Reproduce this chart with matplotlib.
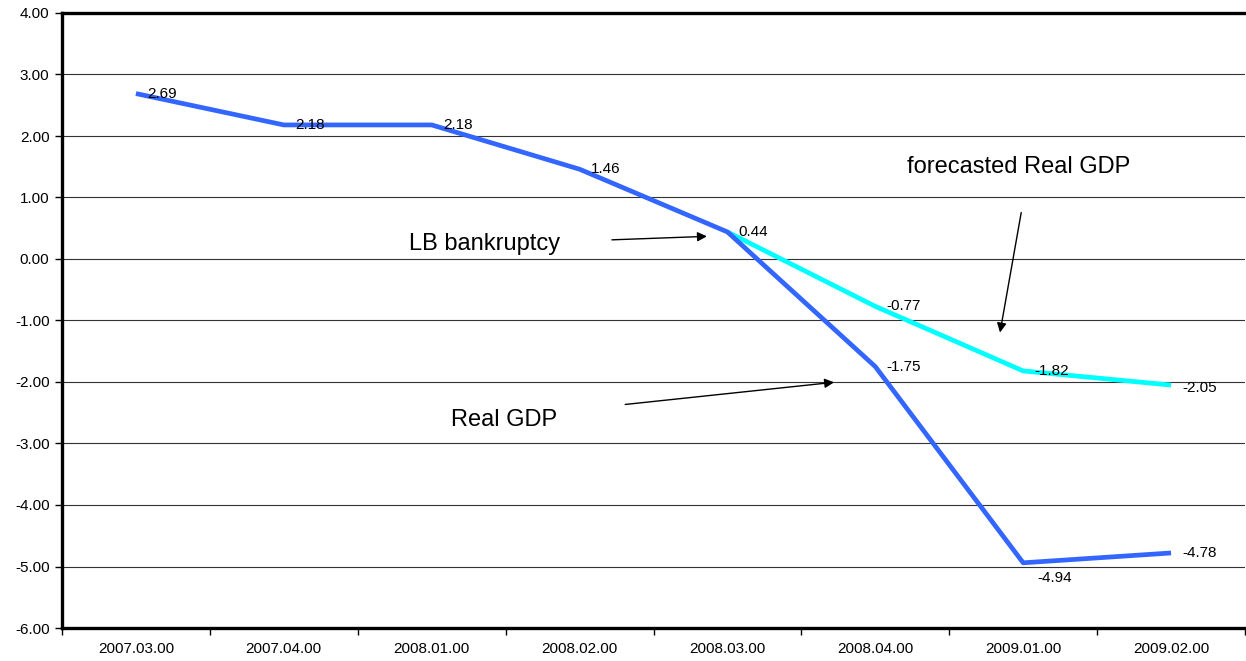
import numpy as np
import matplotlib.pyplot as plt
from matplotlib.ticker import FixedLocator

plt.rcParams['font.family'] = ['Liberation Sans', 'DejaVu Sans']

# data
quarters = ['2007.03.00', '2007.04.00', '2008.01.00', '2008.02.00',
            '2008.03.00', '2008.04.00', '2009.01.00', '2009.02.00']
real_gdp = [2.69, 2.18, 2.18, 1.46, 0.44, -1.75, -4.94, -4.78]
forecast_idx = [4, 5, 6, 7]
forecast_gdp = [0.44, -0.77, -1.82, -2.05]

x = np.arange(len(quarters))

fig = plt.figure(figsize=(12.46, 6.61), dpi=100)
ax = fig.add_axes([62 / 1246, 33 / 661, 1183 / 1246, 615 / 661])

ax.plot(forecast_idx, forecast_gdp, color='#00ffff', lw=3.4, solid_capstyle='butt', zorder=3)
ax.plot(x, real_gdp, color='#3366ff', lw=3.4, solid_capstyle='butt', zorder=4)

# data labels
for i, v in enumerate(real_gdp):
    if i == 6:
        ax.annotate(f'{v:.2f}', (i, v), xytext=(10, -11), textcoords='offset points',
                    ha='left', va='center', fontsize=11, zorder=5)
    else:
        ax.annotate(f'{v:.2f}', (i, v), xytext=(8, 0), textcoords='offset points',
                    ha='left', va='center', fontsize=11, zorder=5)
for i, v in zip(forecast_idx[1:], forecast_gdp[1:]):
    dy = -2 if i == 7 else 0
    ax.annotate(f'{v:.2f}', (i, v), xytext=(8, dy), textcoords='offset points',
                ha='left', va='center', fontsize=11, zorder=5)

ax.set_xlim(-0.5, len(quarters) - 0.5)
ax.set_ylim(-6, 4)
ax.set_yticks(np.arange(-6, 4.1, 1))
ax.set_yticklabels([f'{t:.2f}' for t in np.arange(-6, 4.1, 1)], fontsize=11)
ax.set_xticks(x)
ax.set_xticklabels(quarters, fontsize=11)
ax.xaxis.set_minor_locator(FixedLocator(np.arange(-0.5, len(quarters), 1)))
ax.tick_params(axis='x', which='major', length=0, pad=10)
ax.tick_params(axis='x', which='minor', length=5, width=1)
ax.tick_params(axis='y', length=5, width=1, pad=4)

ax.grid(axis='y', color='#333333', lw=0.8)
ax.set_axisbelow(True)
for s in ['left', 'bottom', 'top']:
    ax.spines[s].set_linewidth(2.4)
ax.spines['right'].set_visible(False)

arrow = dict(arrowstyle='-|>', color='black', lw=1, mutation_scale=14)
ax.annotate('', xy=(3.88, 0.37), xytext=(3.20, 0.31), arrowprops=arrow)
ax.text(2.36, 0.25, 'LB bankruptcy', fontsize=17, ha='center', va='center')
ax.annotate('', xy=(5.84, -1.24), xytext=(5.99, 0.80), arrowprops=arrow)
ax.text(5.97, 1.50, 'forecasted Real GDP', fontsize=17, ha='center', va='center')
ax.annotate('', xy=(4.74, -2.0), xytext=(3.29, -2.37), arrowprops=arrow)
ax.text(2.49, -2.62, 'Real GDP', fontsize=17, ha='center', va='center')

fig.savefig('out.png', dpi=100)
